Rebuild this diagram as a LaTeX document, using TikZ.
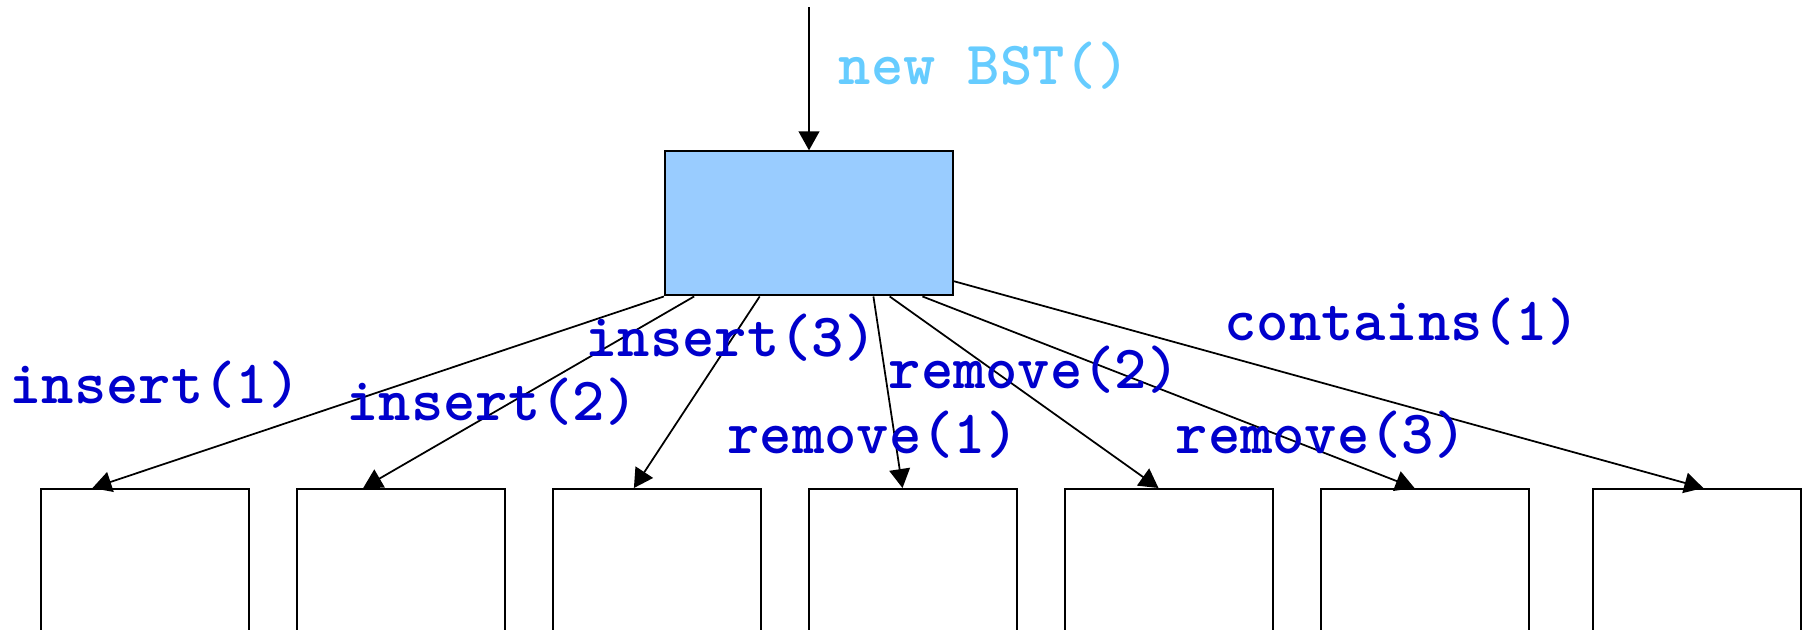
\documentclass[tikz,border=0pt]{standalone}
\usepackage{xcolor}
\usepackage{fontspec}
\usepackage{tikz}
\usetikzlibrary{calc, arrows.meta, positioning}

\definecolor{callblue}{HTML}{0000CC}
\definecolor{newblue}{HTML}{66CCFF}
\definecolor{objblue}{HTML}{99CCFF}

\tikzset{
	obj/.style = {draw, fill = objblue, line width = 0.6pt, inner sep = 0pt, minimum width = 2.88cm, minimum height = 1.44cm},
	state/.style = {draw, line width = 0.6pt, inner sep = 0pt, minimum width = 2.08cm, minimum height = 2.4cm, anchor = north},
	call/.style = {font = \ttfamily\bfseries\fontsize{17.5}{19}\selectfont, text = callblue, inner sep = 0pt},
	tip/.style = {line width = 0.5pt, -{Triangle[length = 5.4pt, width = 5.9pt]}}
}

\begin{document}
		\begin{tikzpicture}
			\def\W{18.11};
			\def\H{6.29};
			\def\T{-4.88};

			\useasboundingbox (0,0) rectangle (\W,-\H);
			\clip (0,0) rectangle (\W,-\H);

			% the new object and its constructor call
			\coordinate (start) at (8.09,-0.073);
			\node [obj] (bst) at (8.09,-2.234) {};
			\draw [tip] (start) -- (bst.north);
			\node [call, text = newblue] (ctor) at (9.84,-0.66) {new BST()};

			% states after each call
			\foreach \i/\x in {1/1.45, 2/4.01, 3/6.57, 4/9.13, 5/11.69, 6/14.25, 7/16.97}
				\node [state] (s\i) at (\x,\T) {};

			\begin{scope}[tip]
				\foreach \i/\a/\b in {1/0/0.25, 2/0.104/0.32, 3/0.33/0.39, 4/0.722/0.45, 5/0.778/0.45, 6/0.891/0.45}
					\draw ($(bst.south west)!\a!(bst.south east)$) -- ($(s\i.north west)!\b!(s\i.north east)$);
				\draw ($(bst.north east)!0.896!(bst.south east)$) -- ($(s7.north west)!0.53!(s7.north east)$);
			\end{scope}

			% method calls
			\node [call] (ins1) at (1.55,-3.85) {insert(1)};
			\node [call] (ins2) at (4.92,-4.02) {insert(2)};
			\node [call] (ins3) at (7.31,-3.38) {insert(3)};
			\node [call] (rem1) at (8.73,-4.35) {remove(1)};
			\node [call] (rem2) at (10.34,-3.70) {remove(2)};
			\node [call] (rem3) at (13.21,-4.35) {remove(3)};
			\node [call] (cont) at (14.02,-3.215) {contains(1)};
		\end{tikzpicture}
\end{document}
